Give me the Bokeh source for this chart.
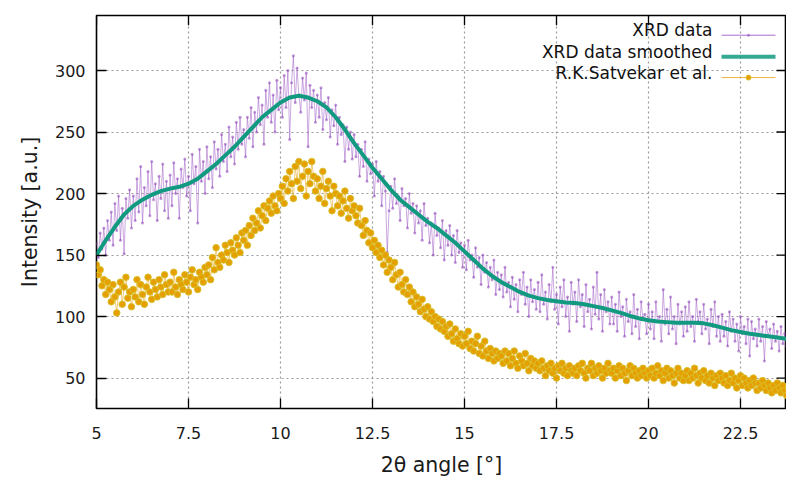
from bokeh.plotting import figure
from bokeh.models import (Range1d, FixedTicker, Label, NumeralTickFormatter)
from bokeh.embed import file_html
from bokeh.resources import INLINE

# ---------------- data ----------------
x_ticks = [5, 7.5, 10, 12.5, 15, 17.5, 20, 22.5]
y_ticks = [50, 100, 150, 200, 250, 300]

xrd_start, xrd_step = 5.0, 0.05
xrd_y = [
    160, 148, 168, 155, 172, 150, 178, 162, 185, 158, 192, 170, 198, 162, 188, 151, 196, 180, 203, 172,
    198, 178, 212, 185, 222, 176, 205, 190, 218, 182, 226, 195, 208, 178, 214, 196, 224, 186, 210, 180,
    215, 190, 225, 200, 212, 180, 220, 205, 228, 198, 214, 186, 232, 208, 222, 176, 236, 210, 226, 200,
    238, 212, 230, 205, 242, 220, 236, 214, 248, 226, 240, 218, 254, 230, 246, 224, 258, 236, 262, 240,
    252, 230, 262, 245, 270, 238, 266, 250, 278, 256, 272, 240, 284, 262, 290, 258, 280, 250, 292, 268,
    286, 262, 296, 270, 300, 244, 290, 312, 274, 302, 280, 266, 294, 276, 298, 238, 288, 270, 284, 258,
    280, 262, 286, 252, 274, 260, 278, 246, 268, 255, 272, 240, 262, 248, 256, 226, 254, 236, 250, 228,
    248, 230, 240, 214, 236, 222, 242, 210, 228, 216, 224, 198, 226, 210, 218, 190, 214, 202, 152, 186,
    206, 188, 212, 192, 198, 178, 204, 190, 196, 172, 200, 184, 192, 168, 190, 176, 186, 162, 192, 174,
    180, 160, 176, 150, 184, 166, 172, 156, 178, 146, 170, 158, 174, 150, 166, 144, 170, 152, 160, 140,
    158, 138, 162, 146, 150, 132, 156, 140, 148, 126, 150, 136, 144, 124, 140, 130, 146, 118, 136, 122,
    134, 116, 140, 120, 128, 108, 132, 114, 126, 104, 130, 118, 136, 110, 124, 100, 130, 112, 122, 106,
    128, 104, 134, 110, 120, 98, 126, 112, 140, 106, 118, 94, 124, 108, 130, 100, 116, 88, 128, 110,
    120, 96, 130, 108, 118, 92, 126, 104, 114, 90, 124, 102, 136, 98, 118, 88, 122, 104, 112, 94,
    116, 94, 110, 88, 120, 100, 108, 84, 114, 96, 104, 86, 118, 92, 106, 82, 112, 98, 102, 86,
    110, 90, 104, 82, 112, 96, 100, 80, 122, 94, 106, 86, 116, 90, 100, 78, 110, 94, 104, 84,
    108, 88, 112, 92, 100, 80, 114, 96, 104, 86, 110, 90, 98, 78, 106, 92, 112, 84, 100, 80,
    102, 84, 96, 76, 104, 88, 98, 80, 94, 72, 100, 86, 92, 78, 98, 68, 96, 82, 90, 76,
    98, 80, 92, 64, 96, 84, 90, 74, 94, 80, 88, 72, 92, 78, 86, 76, 90,
]

smooth_start, smooth_step = 5.0, 0.25
smooth_y = [
    150, 162, 173, 183, 190, 195, 199, 202, 204, 205.5, 208, 212, 218, 224, 231, 238,
    246, 254, 262, 268, 274, 278, 279.5, 278, 275, 270, 262, 252, 241, 231, 221, 212,
    203, 195, 189, 183, 177, 172, 166, 160, 153, 146, 139, 133, 128, 124, 120, 117,
    115, 113.5, 112.5, 111.5, 111, 110, 108.5, 107, 105, 103, 100.5, 98.5, 97, 96,
    95.5, 95, 95, 95, 94.5, 93, 91, 89, 87.5, 86, 85, 84, 83, 82,
]

ref_start, ref_step = 5.0, 0.05
ref_y = [
    142, 134, 138, 125, 130, 118, 128, 122, 112, 126, 116, 103, 120, 128, 110, 124, 132, 115, 120, 108,
    122, 116, 130, 112, 126, 118, 110, 124, 132, 120, 114, 128, 122, 116, 130, 124, 118, 134, 126, 120,
    128, 120, 136, 124, 118, 130, 126, 122, 134, 128, 120, 132, 138, 126, 130, 122, 136, 132, 128, 140,
    134, 142, 130, 148, 138, 156, 144, 140, 150, 146, 158, 152, 144, 160, 154, 150, 164, 158, 152, 168,
    162, 170, 158, 174, 166, 180, 170, 176, 186, 172, 182, 190, 178, 188, 194, 184, 198, 190, 186, 200,
    196, 206, 192, 212, 202, 218, 208, 196, 222, 210, 226, 204, 214, 224, 198, 218, 208, 226, 214, 202,
    212, 196, 206, 218, 192, 204, 210, 198, 186, 206, 200, 190, 198, 184, 194, 202, 188, 180, 196, 186,
    190, 182, 176, 188, 174, 166, 178, 170, 160, 168, 156, 162, 152, 158, 148, 154, 142, 150, 136, 146,
    140, 130, 144, 134, 124, 136, 126, 120, 130, 118, 124, 112, 120, 108, 116, 110, 104, 114, 106, 100,
    108, 98, 104, 96, 100, 92, 98, 90, 96, 88, 92, 84, 94, 86, 80, 90, 82, 78, 86, 76,
    84, 78, 88, 74, 80, 72, 78, 84, 70, 76, 68, 80, 72, 66, 74, 70, 64, 72, 66, 70,
    68, 62, 72, 64, 70, 60, 66, 72, 62, 58, 68, 64, 60, 70, 62, 56, 66, 60, 64, 58,
    62, 56, 64, 58, 52, 60, 56, 62, 54, 58, 50, 60, 56, 62, 54, 58, 52, 60, 56, 54,
    58, 52, 60, 56, 62, 54, 50, 58, 56, 62, 52, 58, 54, 60, 56, 50, 58, 54, 62, 56,
    54, 58, 50, 56, 60, 52, 58, 54, 48, 56, 60, 52, 58, 54, 50, 56, 52, 58, 54, 50,
    56, 52, 58, 50, 54, 60, 52, 56, 48, 54, 58, 50, 56, 52, 46, 54, 58, 50, 54, 48,
    52, 56, 48, 54, 50, 58, 52, 46, 54, 50, 56, 48, 52, 46, 54, 50, 44, 52, 48, 54,
    50, 46, 52, 44, 48, 54, 46, 50, 42, 48, 52, 44, 50, 46, 42, 48, 44, 50, 46, 40,
    46, 42, 48, 44, 40, 46, 42, 38, 44, 40, 46, 42, 38, 44, 40, 36, 42,
]

series_names = ["XRD data", "XRD data smoothed", "R.K.Satvekar et al."]

xrd_x = [round(xrd_start + xrd_step * i, 3) for i in range(len(xrd_y))]
smooth_x = [round(smooth_start + smooth_step * i, 3) for i in range(len(smooth_y))]
ref_x = [round(ref_start + ref_step * i, 3) for i in range(len(ref_y))]

# ---------------- figure ----------------
FONT = "DejaVu Sans"
X0, X1 = 5, 23.75
Y0, Y1 = 25.3, 344.7
LEFT, TOP, FRAME_W, FRAME_H = 96, 15, 690, 399
p = figure(width=786, height=479, output_backend="svg", toolbar_location=None,
           x_range=Range1d(X0, X1), y_range=Range1d(Y0, Y1),
           min_border_left=LEFT, min_border_right=0, min_border_top=TOP, min_border_bottom=65)
p.background_fill_color = "white"
p.border_fill_color = "white"
p.outline_line_color = "black"
p.outline_line_width = 1.6


def sx(px):
    """screen pixel (page x) -> data x"""
    return X0 + (px - LEFT) * (X1 - X0) / FRAME_W


def sy(py):
    """screen pixel (page y) -> data y"""
    return Y1 - (py - TOP) * (Y1 - Y0) / FRAME_H


for ax in (p.xaxis[0], p.yaxis[0]):
    ax.axis_line_color = None
    ax.major_tick_in = 10
    ax.major_tick_out = 0
    ax.minor_tick_line_color = None
    ax.major_tick_line_color = "black"
    ax.major_tick_line_width = 1.3
    ax.major_label_text_font = FONT
    ax.major_label_text_font_size = "16px"
    ax.major_label_text_color = "#1a1a1a"
    ax.axis_label_text_font = FONT
    ax.axis_label_text_font_size = "20.5px"
    ax.axis_label_text_font_style = "normal"
    ax.axis_label_text_color = "#1a1a1a"
    ax.formatter = NumeralTickFormatter(format="0.[0]")

p.xaxis[0].ticker = FixedTicker(ticks=x_ticks)
p.yaxis[0].ticker = FixedTicker(ticks=y_ticks)
p.xaxis[0].axis_label = "2θ angle [°]"
p.yaxis[0].axis_label = "Intensity [a.u.]"
p.xaxis[0].major_label_standoff = 18
p.yaxis[0].major_label_standoff = 11
p.xaxis[0].axis_label_standoff = 11
p.yaxis[0].axis_label_standoff = 10

p.xgrid.ticker = FixedTicker(ticks=x_ticks)
p.ygrid.ticker = FixedTicker(ticks=y_ticks)
for g in (p.xgrid[0], p.ygrid[0]):
    g.grid_line_color = "#9a9a9a"
    g.grid_line_dash = "2 3"
    g.grid_line_width = 1.2

# mirror ticks on the top and right borders (gnuplot style), 10 px long
top_len = 10 * (Y1 - Y0) / FRAME_H
right_len = 10 * (X1 - X0) / FRAME_W
p.segment(x0=x_ticks, y0=[Y1] * len(x_ticks), x1=x_ticks, y1=[Y1 - top_len] * len(x_ticks),
          line_color="black", line_width=1.3)
p.segment(x0=[X1] * len(y_ticks), y0=y_ticks, x1=[X1 - right_len] * len(y_ticks), y1=y_ticks,
          line_color="black", line_width=1.3)

# ---------------- series ----------------
XRD_LINE = dict(line_color="#9b55c4", line_alpha=0.5, line_width=1)
XRD_PT = dict(size=3, marker="circle", fill_color="#8e44b8", line_color=None, fill_alpha=0.55)
REF_LINE = dict(line_color="#e8a820", line_alpha=0.6, line_width=1)
REF_PT = dict(size=6.5, marker="circle", fill_color="#e69f00", line_color="#d9bf2a", line_width=1)
SM_LINE = dict(line_color="#119a80", line_width=4)

p.line(xrd_x, xrd_y, **XRD_LINE)
p.scatter(xrd_x, xrd_y, **XRD_PT)
p.line(ref_x, ref_y, **REF_LINE)
p.scatter(ref_x, ref_y, **REF_PT)
p.line(smooth_x, smooth_y, **SM_LINE)

# ---------------- key (gnuplot style: text right-aligned, sample on its right) ----------------
key_rows = [35, 57, 78]          # page-pixel row centres
key_x0, key_x1, key_text = 721, 775, 712
for name, row, line_kw, pt_kw in zip(series_names, key_rows,
                                     [XRD_LINE, SM_LINE, REF_LINE], [XRD_PT, None, REF_PT]):
    ky = sy(row)
    lk = dict(line_kw)
    lk["line_alpha"] = 0.85
    p.line([sx(key_x0), sx(key_x1)], [ky, ky], **lk)
    if pt_kw is not None:
        kw = dict(pt_kw)
        if kw["size"] > 5:
            kw["size"] = 5
        p.scatter([sx((key_x0 + key_x1) / 2)], [ky], **kw)
    p.add_layout(Label(x=key_text - LEFT, y=TOP + FRAME_H - row, x_units="screen", y_units="screen",
                       text=name, text_align="right", text_baseline="middle",
                       text_font=FONT, text_font_size="17px", text_color="#111111"))

open("out.html", "w").write(file_html(p, INLINE))
